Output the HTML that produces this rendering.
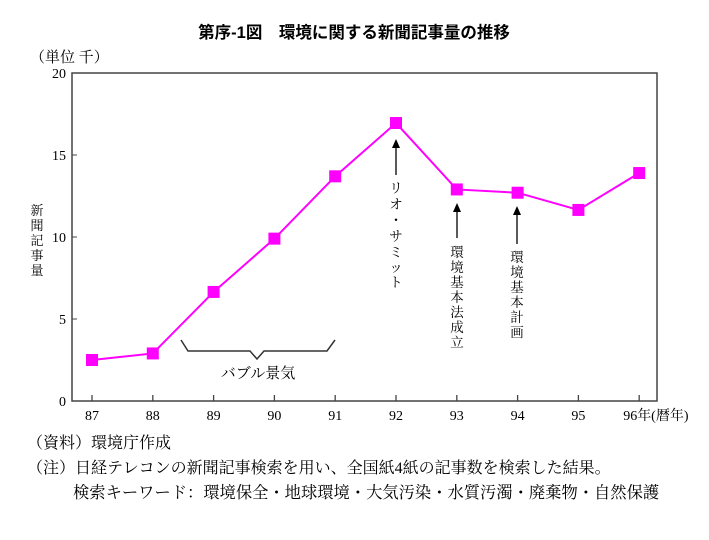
<!DOCTYPE html>
<html><head><meta charset="utf-8"><style>
body{margin:0;background:#fff;}
svg text{font-family:"Liberation Serif","Noto Serif CJK SC","Noto Sans CJK JP",serif;fill:#000;}
</style></head><body>
<svg id="c" width="709" height="535" viewBox="0 0 709 535" xmlns="http://www.w3.org/2000/svg">
<text x="354" y="38" text-anchor="middle" font-size="16.5" font-weight="bold" style="font-family:'Liberation Sans','Noto Sans CJK JP',sans-serif">第序-1図　環境に関する新聞記事量の推移</text>
<text x="30" y="62" font-size="15">（単位 千）</text>
<rect x="72" y="73" width="585" height="328" fill="none" stroke="#444" stroke-width="1.5"/>
<g id="ax"></g>
<g font-size="13">
<text x="37" y="215" text-anchor="middle">新</text><text x="37" y="230" text-anchor="middle">聞</text><text x="37" y="245" text-anchor="middle">記</text><text x="37" y="260" text-anchor="middle">事</text><text x="37" y="275" text-anchor="middle">量</text>
</g>
<g id="ser"></g>
<g>
<path d="M181,340 L188,351 L250,351 L257,359 L264,351 L327,351 L335,340" fill="none" stroke="#333" stroke-width="1.5"/>
<text x="258" y="378" text-anchor="middle" font-size="15">バブル景気</text>
</g>
<g font-size="13.5">
<line x1="396" y1="175" x2="396" y2="142" stroke="#000" stroke-width="1.3"/><path d="M392,148 L396,139 L400,148 Z"/>
<text x="396" y="193" text-anchor="middle">リ</text><text x="396" y="209" text-anchor="middle">オ</text><text x="396" y="225" text-anchor="middle">・</text><text x="396" y="241" text-anchor="middle">サ</text><text x="396" y="257" text-anchor="middle">ミ</text><text x="396" y="272" text-anchor="middle">ッ</text><text x="396" y="287" text-anchor="middle">ト</text>
<line x1="457" y1="238" x2="457" y2="206" stroke="#000" stroke-width="1.3"/><path d="M453,212 L457,203 L461,212 Z"/>
<text x="457" y="257" text-anchor="middle">環</text><text x="457" y="272" text-anchor="middle">境</text><text x="457" y="287" text-anchor="middle">基</text><text x="457" y="302" text-anchor="middle">本</text><text x="457" y="317" text-anchor="middle">法</text><text x="457" y="332" text-anchor="middle">成</text><text x="457" y="347" text-anchor="middle">立</text>
<line x1="517" y1="244" x2="517" y2="209" stroke="#000" stroke-width="1.3"/><path d="M513,215 L517,206 L521,215 Z"/>
<text x="517" y="262" text-anchor="middle">環</text><text x="517" y="277" text-anchor="middle">境</text><text x="517" y="292" text-anchor="middle">基</text><text x="517" y="307" text-anchor="middle">本</text><text x="517" y="322" text-anchor="middle">計</text><text x="517" y="337" text-anchor="middle">画</text>
</g>
<text x="27" y="448" font-size="16">（資料）環境庁作成</text>
<text x="27" y="473" font-size="16">（注）日経テレコンの新聞記事検索を用い、全国紙4紙の記事数を検索した結果。</text>
<text x="73" y="498" font-size="16.3">検索キーワード：環境保全・地球環境・大気汚染・水質汚濁・廃棄物・自然保護</text>
</svg>
<script>
const categories=["87","88","89","90","91","92","93","94","95","96年(暦年)"];
const values=[2.5,2.9,6.65,9.9,13.7,16.95,12.9,12.7,11.65,13.9];
const yTicks=[0,5,10,15,20];
const NS="http://www.w3.org/2000/svg";
const x0=92,dx=60.8,yBase=401,yTop=73,yMax=20;
function xs(i){return x0+i*dx;}
function ys(v){return yBase-(v/yMax)*(yBase-yTop);}
function mk(t,a,p){const e=document.createElementNS(NS,t);for(const k in a)e.setAttribute(k,a[k]);p.appendChild(e);return e;}
const ax=document.getElementById('ax');
categories.forEach((c,i)=>{
  const t=mk('line',{x1:xs(i),x2:xs(i),y1:yBase,y2:yBase-6,stroke:'#444','stroke-width':1.3},ax);
  
  
  const l=mk('text',{x:xs(i),y:420,'text-anchor':i===categories.length-1?'start':'middle','font-size':14},ax);
  if(i===categories.length-1)l.setAttribute('x',xs(i)-16);
  l.textContent=c;
  
  
});
yTicks.forEach(v=>{
  const l=mk('text',{x:66,y:ys(v)+5,'text-anchor':'end','font-size':14},ax);
  l.textContent=v;
  
  
  const t=mk('line',{x1:72,x2:77,y1:ys(v),y2:ys(v),stroke:'#444','stroke-width':1},ax);
  
  
});
const ser=document.getElementById('ser');
const pl=mk('polyline',{points:values.map((v,i)=>xs(i)+','+ys(v)).join(' '),fill:'none',stroke:'#ff00ff','stroke-width':2},ser);


values.forEach((v,i)=>{
  const r=mk('rect',{x:xs(i)-6,y:ys(v)-6,width:12,height:12,fill:'#ff00ff'},ser);
  
  
});
</script>
</body></html>
